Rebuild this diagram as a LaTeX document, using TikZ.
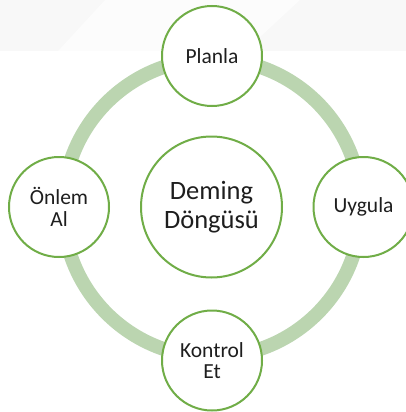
\documentclass[tikz,border=0pt]{standalone}
\usepackage{fontspec}
\setmainfont{Carlito}
\definecolor{ringgreen}{RGB}{187,213,176}
\definecolor{edgegreen}{RGB}{112,173,71}
\definecolor{inkgray}{RGB}{30,30,30}
\definecolor{bandgray}{RGB}{248,248,248}
\definecolor{bandlight}{RGB}{252,252,252}
\begin{document}
\begin{tikzpicture}[x=1pt,y=-1pt,
  stage/.style={circle, draw=edgegreen, line width=2pt, fill=white,
    minimum size=100pt, inner sep=0pt, align=center, text=inkgray,
    font=\fontsize{21.5}{21.5}\selectfont},
  hub/.style={stage, minimum size=141pt, font=\fontsize{26.5}{28.5}\selectfont},
  cycle ring/.style={draw=ringgreen, line width=14pt}]
\useasboundingbox (0,0) rectangle (406,412);
\clip (0,0) rectangle (406,412);
% faint header band
\fill[bandgray] (0,0) rectangle (406,51);
\fill[bandlight] (58,51) -- (105,0) -- (300,0) -- (245,51) -- cycle;
% the cycle ring
\coordinate (c) at (212,208);
\draw[cycle ring] (c) circle[radius=149pt];
% stages of the cycle
\node[hub]   (deming)  at (211.5,207) {Deming\\Döngüsü};
\node[stage] (planla)  at (212,56)    {Planla};
\node[stage] (uygula)  at (363.5,207) {Uygula};
\node[stage] (kontrol) at (212,360.5) {Kontrol\\Et};
\node[stage] (onlem)   at (59,207)    {Önlem\\Al};
\end{tikzpicture}
\end{document}
